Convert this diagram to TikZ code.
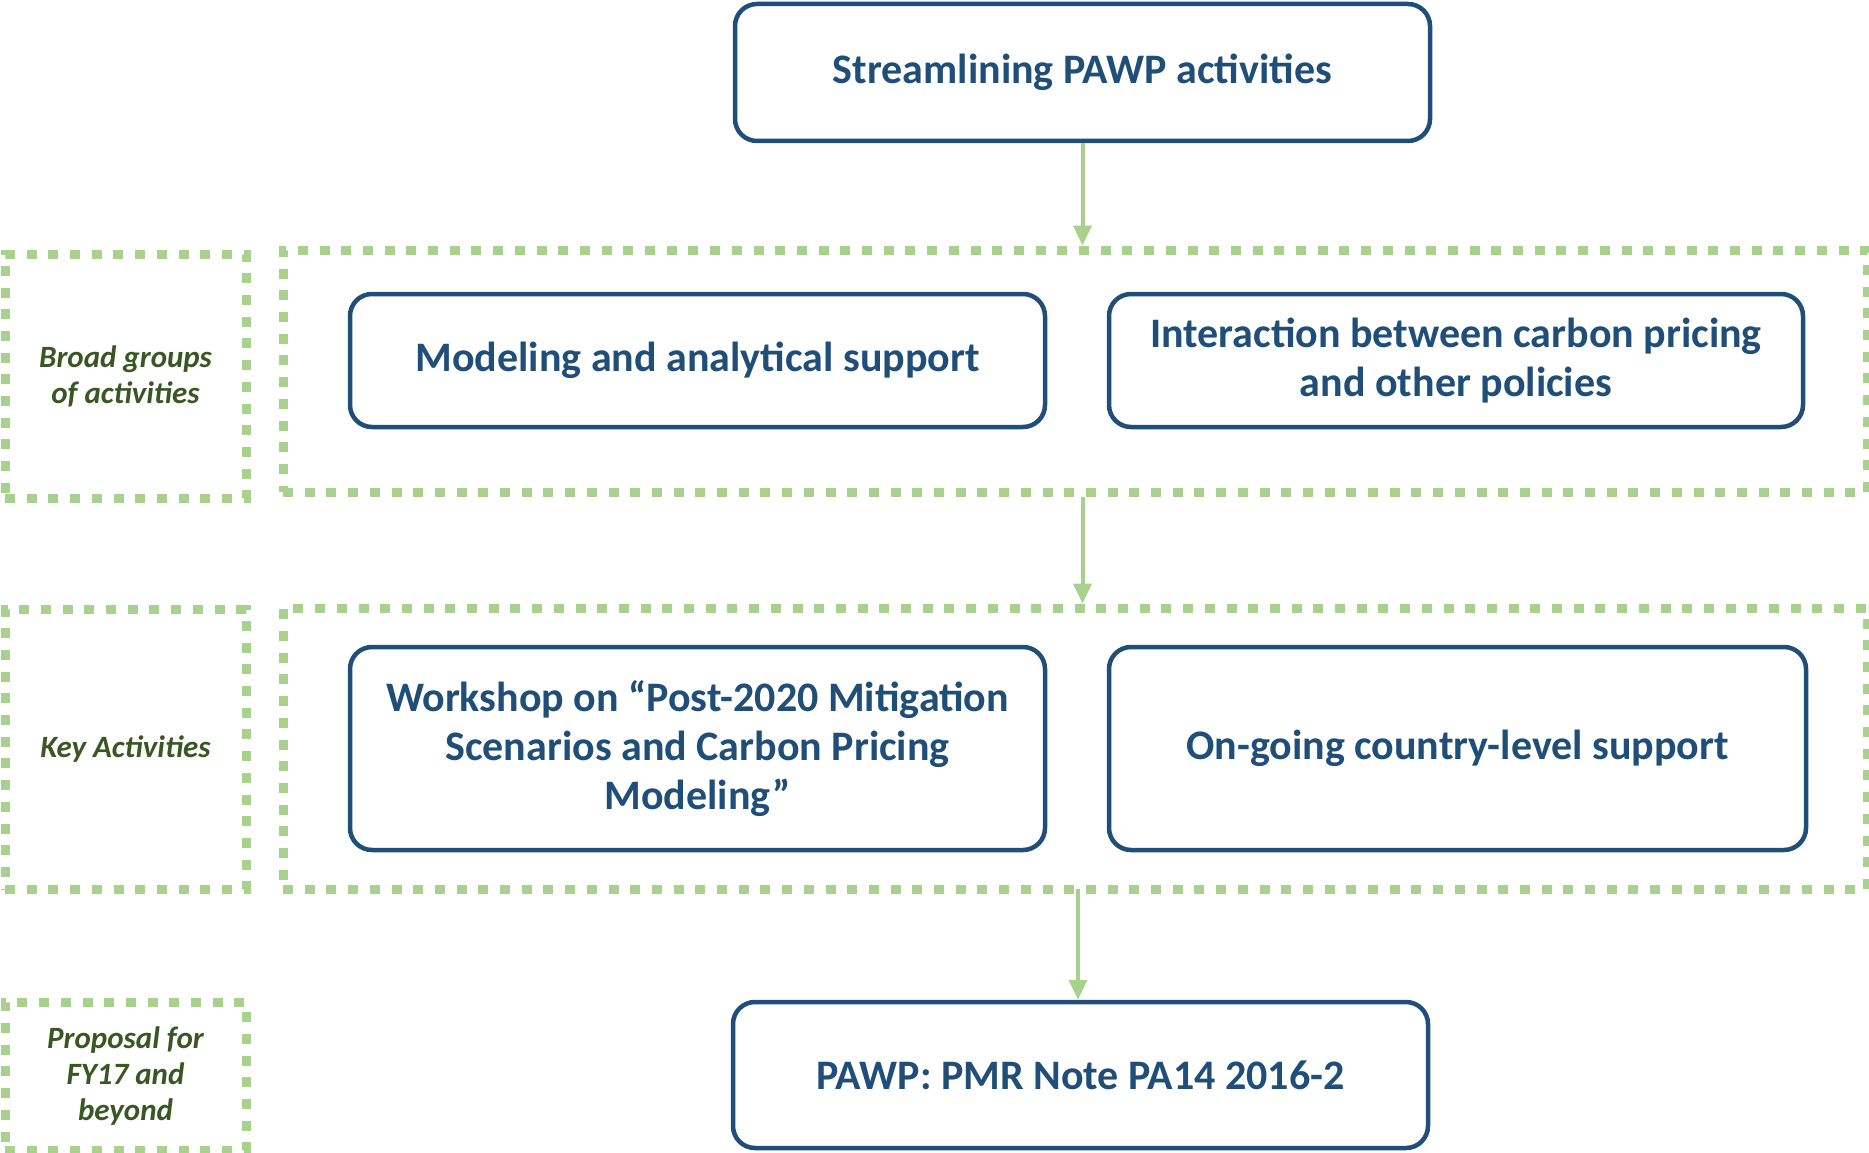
\documentclass[tikz,border=0pt]{standalone}
\usepackage{fontspec}
\setmainfont{Carlito}
\usetikzlibrary{arrows.meta}
\definecolor{boxblue}{RGB}{31,78,121}
\definecolor{dashgreen}{RGB}{169,209,142}
\definecolor{labgreen}{RGB}{56,87,35}
\tikzset{
  mainbox/.style={draw=boxblue, line width=4.5pt, rounded corners=22pt, fill=white,
    text=boxblue, font=\bfseries\fontsize{42}{49}\selectfont, align=center, inner sep=0pt},
  groupbox/.style={draw=dashgreen, line width=9pt, dash pattern=on 10pt off 11.7pt, inner sep=0pt},
  labelbox/.style={draw=dashgreen, line width=9pt, dash pattern=on 10pt off 11.7pt, inner sep=0pt,
    text=labgreen, font=\bfseries\itshape\fontsize{31}{36}\selectfont, align=center},
  flow/.style={draw=dashgreen, line width=4pt, -{Triangle[width=18pt,length=20pt]}}
}
\begin{document}
\begin{tikzpicture}[x=1pt,y=-1pt]
\useasboundingbox (0,0) rectangle (1869,1153);
% groups
\node[groupbox, minimum width=1584pt, minimum height=242pt] (g1) at (1075,371) {};
\node[groupbox, minimum width=1584pt, minimum height=281pt] (g2) at (1075,748.5) {};
% labels
\node[labelbox, minimum width=241pt, minimum height=244pt] (l1) at (125.5,376) {Broad groups\\of activities};
\node[labelbox, minimum width=241pt, minimum height=280pt] (l2) at (125.5,749) {Key Activities};
\node[labelbox, minimum width=241pt, minimum height=148pt] (l3) at (125.5,1076) {Proposal for\\FY17 and\\beyond};
% main boxes
\node[mainbox, minimum width=695pt, minimum height=137pt] (top) at (1082.5,72.5) {Streamlining PAWP activities};
\node[mainbox, minimum width=695pt, minimum height=133pt] (model) at (697.5,360.5) {Modeling and analytical support};
\node[mainbox, minimum width=694pt, minimum height=133pt] (inter) at (1456,360.5) {Interaction between carbon pricing\\and other policies};
\node[mainbox, minimum width=695pt, minimum height=203pt] (work) at (697.5,748.5) {Workshop on “Post-2020 Mitigation\\Scenarios and Carbon Pricing\\Modeling”};
\node[mainbox, minimum width=697pt, minimum height=203pt] (ongo) at (1457.5,748.5) {On-going country-level support};
\node[mainbox, minimum width=695pt, minimum height=146pt] (bot) at (1080.5,1075) {PAWP: PMR Note PA14 2016-2};
% arrows
\draw[flow] (top.south) -- (top.south |- g1.north);
\draw[flow] (top.south |- g1.south) -- (top.south |- g2.north);
\coordinate (a3) at (1078,889);
\draw[flow] (a3) -- (a3 |- bot.north);
\end{tikzpicture}
\end{document}
